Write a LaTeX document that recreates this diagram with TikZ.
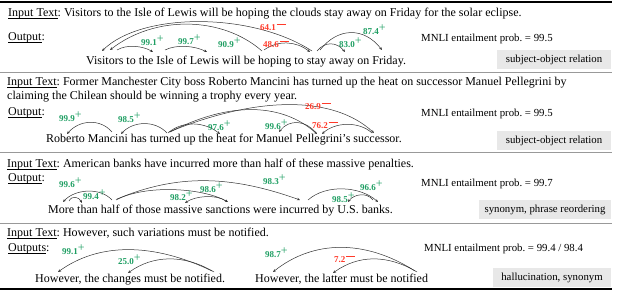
\documentclass[tikz,border=0pt]{standalone}
\usepackage{fontspec}
\setmainfont{Liberation Serif}
\usetikzlibrary{arrows.meta, calc}

\newcommand{\posmark}{\raisebox{3.2pt}{\fontsize{12}{12}\selectfont\mdseries +}}
\newcommand{\negmark}{\hspace{0.6pt}\raisebox{6.8pt}{\rule{9pt}{0.6pt}}}
\newcommand{\undertext}[1]{\setbox0\hbox{#1}\rlap{\rule[-1.4pt]{\wd0}{0.5pt}}\box0}

\begin{document}
\frenchspacing
\begin{tikzpicture}[x=1pt, y=-1pt,
    sentence/.style={anchor=base west, inner sep=0pt, font=\fontsize{12}{14}\selectfont},
    score/.style={anchor=base west, inner sep=0pt, font=\fontsize{10.8}{12}\selectfont},
    tagbox/.style={fill=boxColour, inner sep=0pt, minimum height=19pt, font=\fontsize{10.8}{12}\selectfont},
    poslabel/.style={anchor=base west, inner sep=0pt, text=posColour, font=\fontsize{9}{10}\selectfont\bfseries},
    neglabel/.style={anchor=base west, inner sep=0pt, text=negColour, font=\fontsize{9}{10}\selectfont\bfseries},
    arcline/.style={draw=arcColour, line width=0.5pt, -{Stealth[length=3pt, width=2.6pt]}},
    thickrule/.style={line width=1.2pt, black},
    midrule/.style={line width=0.9pt, gray!80}]

    % Define colours
    \definecolor{posColour}{HTML}{1E9E62}
    \definecolor{negColour}{HTML}{FF3A2A}
    \definecolor{arcColour}{HTML}{333333}
    \definecolor{boxColour}{HTML}{E8E8E8}

    % Fix the picture size
    \useasboundingbox (0,0) rectangle (630,291);

    % Draw rules
    \draw[thickrule] (0,2) -- (612,2);
    \draw[midrule] (0,72) -- (612,72);
    \draw[midrule] (0,152) -- (612,152);
    \draw[midrule] (0,223) -- (612,223);
    \draw[thickrule] (0,289) -- (612,289);

    % ---------- Example 1 ----------
    \node[sentence] (in1) at (8,17) {\undertext{Input Text}: Visitors to the Isle of Lewis will be hoping the clouds stay away on Friday for the solar eclipse.};
    \node[sentence] (out1) at (8,41) {\undertext{Output}:};
    \node[sentence] (sent1) at (86,65) {Visitors to the Isle of Lewis will be hoping to stay away on Friday.};
    \node[score] (mnli1) at (421,42) {MNLI entailment prob. = 99.5};
    \node[tagbox, minimum width=114pt] (tag1) at (554,59.5) {subject-object relation};

    % Word anchors
    \coordinate (r1visA) at (102,51);
    \coordinate (r1visB) at (110,50);
    \coordinate (r1visC) at (117,50);
    \coordinate (r1isleA) at (153,52);
    \coordinate (r1isleB) at (165,50);
    \coordinate (r1lewis) at (207,52);
    \coordinate (r1hopA) at (262,51);
    \coordinate (r1hopB) at (264,50);
    \coordinate (r1stayA) at (312,51);
    \coordinate (r1stayB) at (310,52);
    \coordinate (r1stayC) at (317,51);
    \coordinate (r1stayD) at (320,50);
    \coordinate (r1away) at (345,52);
    \coordinate (r1friday) at (382,50);

    % Draw arcs
    \draw[arcline] (r1stayA) .. controls +(-60,-39) and +(40,-39) .. (r1visA);
    \draw[arcline] (r1hopA) .. controls +(-40,-35) and +(45,-35) .. (r1visB);
    \draw[arcline] (r1visC) .. controls +(10,-6) and +(-10,-6) .. (r1isleA);
    \draw[arcline] (r1isleB) .. controls +(12,-6) and +(-12,-6) .. (r1lewis);
    \draw[arcline] (r1hopB) .. controls +(14,-10) and +(-14,-11) .. (r1stayB);
    \draw[arcline] (r1stayC) .. controls +(8,-10) and +(-8,-10) .. (r1away);
    \draw[arcline] (r1stayD) .. controls +(18,-23) and +(-18,-23) .. (r1friday);

    % Scores
    \node[poslabel] (r1s991) at (141,46) {99.1\posmark};
    \node[poslabel] (r1s997) at (178,45) {99.7\posmark};
    \node[poslabel] (r1s909) at (218,48) {90.9\posmark};
    \node[neglabel] (r1s641) at (260,31) {64.1\negmark};
    \node[neglabel] (r1s486) at (263,48) {48.6\negmark};
    \node[poslabel] (r1s830) at (339,48) {83.0\posmark};
    \node[poslabel] (r1s874) at (363,35) {87.4\posmark};

    % ---------- Example 2 ----------
    \node[sentence] (in2a) at (7,86) {\undertext{Input Text}: Former Manchester City boss Roberto Mancini has turned up the heat on successor Manuel Pellegrini by};
    \node[sentence] (in2b) at (7,100) {claiming the Chilean should be winning a trophy every year.};
    \node[sentence] (out2) at (8,116) {\undertext{Output}:};
    \node[sentence] (sent2) at (46,143) {Roberto Mancini has turned up the heat for Manuel Pellegrini's successor.};
    \node[score] (mnli2) at (421,117) {MNLI entailment prob. = 99.5};
    \node[tagbox, minimum width=114pt] (tag2) at (554,140.5) {subject-object relation};

    % Word anchors
    \coordinate (r2roberto) at (67,134);
    \coordinate (r2mancA) at (112,132);
    \coordinate (r2mancB) at (121,134);
    \coordinate (r2turnA) at (167,133);
    \coordinate (r2turnB) at (168,133);
    \coordinate (r2turnC) at (169,132);
    \coordinate (r2turnD) at (170,132);
    \coordinate (r2heat) at (220,134);
    \coordinate (r2manuel) at (279,132);
    \coordinate (r2pellA) at (316,133);
    \coordinate (r2pellB) at (317,134);
    \coordinate (r2pellC) at (322,134);
    \coordinate (r2succA) at (372,133);
    \coordinate (r2succB) at (374,133);

    % Draw arcs
    \draw[arcline] (r2mancA) .. controls +(-12,-14) and +(12,-14) .. (r2roberto);
    \draw[arcline] (r2turnA) .. controls +(-12,-13) and +(12,-13) .. (r2mancB);
    \draw[arcline] (r2turnB) .. controls +(15,-13) and +(-15,-12) .. (r2heat);
    \draw[arcline] (r2turnC) .. controls +(90,-37) and +(-40,-37) .. (r2succB);
    \draw[arcline] (r2turnD) .. controls +(60,-31) and +(-35,-31) .. (r2pellB);
    \draw[arcline] (r2pellA) .. controls +(-10,-13) and +(10,-13) .. (r2manuel);
    \draw[arcline] (r2succA) .. controls +(-13,-12) and +(13,-12) .. (r2pellC);

    % Scores
    \node[poslabel] (r2s999) at (59,122) {99.9\posmark};
    \node[poslabel] (r2s985) at (118,123) {98.5\posmark};
    \node[poslabel] (r2s976) at (208,131) {97.6\posmark};
    \node[poslabel] (r2s996) at (265,130) {99.6\posmark};
    \node[neglabel] (r2s269) at (305,110) {26.9\negmark};
    \node[neglabel] (r2s762) at (312,129) {76.2\negmark};

    % ---------- Example 3 ----------
    \node[sentence] (in3) at (7,168) {\undertext{Input Text}: American banks have incurred more than half of these massive penalties.};
    \node[sentence] (out3) at (8,182) {\undertext{Output}:};
    \node[sentence] (sent3) at (48,214) {More than half of those massive sanctions were incurred by U.S. banks.};
    \node[score] (mnli3) at (421,187) {MNLI entailment prob. = 99.7};
    \node[tagbox, minimum width=132pt] (tag3) at (545,210) {synonym, phrase reordering};

    % Word anchors
    \coordinate (r3moreA) at (63,202);
    \coordinate (r3moreB) at (69,201);
    \coordinate (r3than) at (82,203);
    \coordinate (r3halfA) at (112,200);
    \coordinate (r3halfB) at (116,200);
    \coordinate (r3halfC) at (117,199);
    \coordinate (r3massive) at (185,203);
    \coordinate (r3sanctA) at (226,201);
    \coordinate (r3sanctB) at (228,202);
    \coordinate (r3incA) at (300,200);
    \coordinate (r3incB) at (308,200);
    \coordinate (r3us) at (348,202);
    \coordinate (r3banksA) at (373,200);
    \coordinate (r3banksB) at (378,202);

    % Draw arcs
    \draw[arcline] (r3halfA) .. controls +(-12,-13) and +(12,-13) .. (r3moreA);
    \draw[arcline] (r3moreB) .. controls +(3,-6) and +(-3,-6) .. (r3than);
    \draw[arcline] (r3halfB) .. controls +(30,-16) and +(-25,-14) .. (r3sanctB);
    \draw[arcline] (r3halfC) .. controls +(60,-25) and +(-70,-25) .. (r3incA);
    \draw[arcline] (r3sanctA) .. controls +(-10,-7) and +(10,-7) .. (r3massive);
    \draw[arcline] (r3incB) .. controls +(18,-16) and +(-18,-16) .. (r3banksB);
    \draw[arcline] (r3banksA) .. controls +(-6,-8) and +(6,-8) .. (r3us);

    % Scores
    \node[poslabel] (r3s996) at (59,188) {99.6\posmark};
    \node[poslabel] (r3s994) at (83,200) {99.4\posmark};
    \node[poslabel] (r3s982) at (170,201) {98.2\posmark};
    \node[poslabel] (r3s986) at (200,193) {98.6\posmark};
    \node[poslabel] (r3s983) at (263,185) {98.3\posmark};
    \node[poslabel] (r3s966) at (360,191) {96.6\posmark};
    \node[poslabel] (r3s985) at (332,203) {98.5\posmark};

    % ---------- Example 4 ----------
    \node[sentence] (in4) at (7,237) {\undertext{Input Text}: However, such variations must be notified.};
    \node[sentence] (out4) at (8,252) {\undertext{Outputs}:};
    \node[sentence] (sent4a) at (35,283) {However, the changes must be notified.};
    \node[sentence] (sent4b) at (255,283) {However, the latter must be notified};
    \node[score] (mnli4) at (424,252) {MNLI entailment prob. = 99.4 / 98.4};
    \node[tagbox, minimum width=118pt] (tag4) at (552,277.5) {hallucination, synonym};

    % Word anchors
    \coordinate (r4howA) at (58,272);
    \coordinate (r4changes) at (128,273);
    \coordinate (r4notA) at (212,271);
    \coordinate (r4notB) at (214,272);
    \coordinate (r4howB) at (273,272);
    \coordinate (r4latter) at (333,273);
    \coordinate (r4notC) at (415,271);
    \coordinate (r4notD) at (417,272);

    % Draw arcs
    \draw[arcline] (r4notA) .. controls +(-60,-29) and +(40,-29) .. (r4howA);
    \draw[arcline] (r4notB) .. controls +(-30,-18) and +(25,-18) .. (r4changes);
    \draw[arcline] (r4notC) .. controls +(-50,-32) and +(40,-32) .. (r4howB);
    \draw[arcline] (r4notD) .. controls +(-30,-18) and +(25,-18) .. (r4latter);

    % Scores
    \node[poslabel] (r4s991) at (62,255) {99.1\posmark};
    \node[poslabel] (r4s250) at (118,265) {25.0\posmark};
    \node[poslabel] (r4s987) at (265,258) {98.7\posmark};
    \node[neglabel] (r4s72) at (334,263) {7.2\negmark};

\end{tikzpicture}
\end{document}
